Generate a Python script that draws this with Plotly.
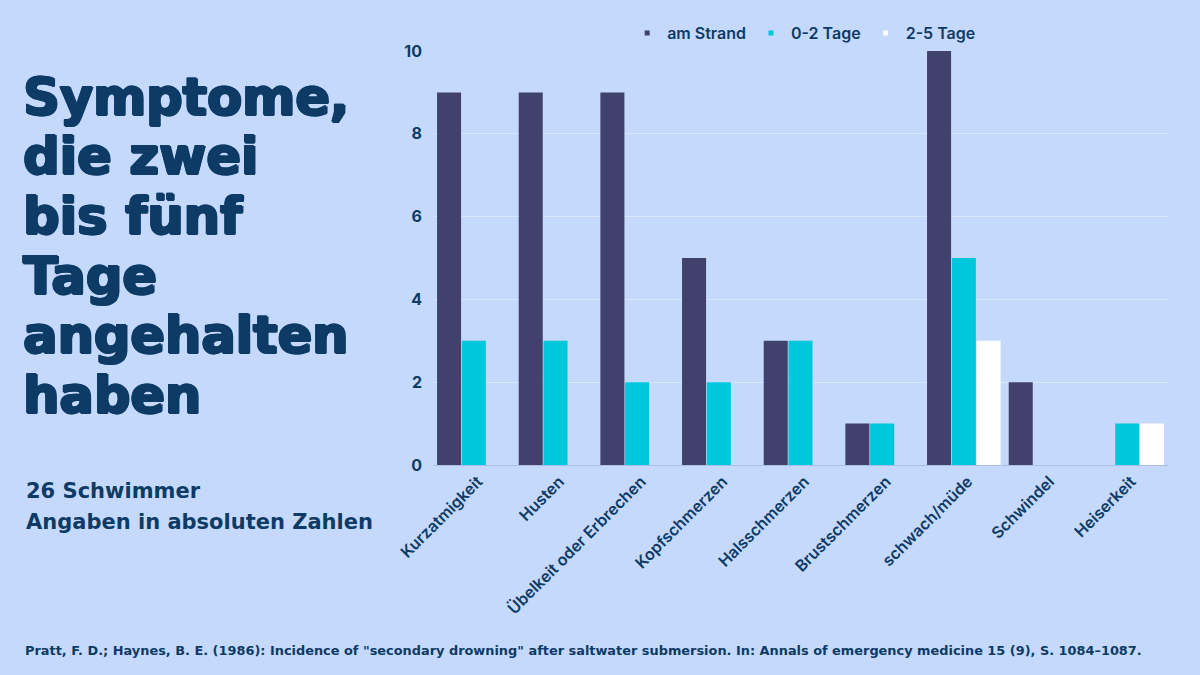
import plotly.graph_objects as go

categories = ["Kurzatmigkeit", "Husten", "Übelkeit oder Erbrechen", "Kopfschmerzen",
              "Halsschmerzen", "Brustschmerzen", "schwach/müde", "Schwindel", "Heiserkeit"]
am_strand = [9, 9, 9, 5, 3, 1, 10, 2, 0]
tage_0_2 = [3, 3, 2, 2, 3, 1, 5, 0, 1]
tage_2_5 = [0, 0, 0, 0, 0, 0, 3, 0, 1]
series_names = ["am Strand", "0-2 Tage", "2-5 Tage"]
y_ticks = [0, 2, 4, 6, 8, 10]
title_lines = ["Symptome,", "die zwei", "bis fünf", "Tage", "angehalten", "haben"]
subtitle_lines = ["26 Schwimmer", "Angaben in absoluten Zahlen"]
source_text = ('Pratt, F. D.; Haynes, B. E. (1986): Incidence of "secondary drowning" after '
               'saltwater submersion. In: Annals of emergency medicine 15 (9), S. 1084–1087.')

BG = "#C5D9FC"
NAVY = "#0D3B66"
colors = ["#41416E", "#00C8DC", "#FFFFFF"]

W, H = 1200, 675
L, R, T, B = 433, 32, 51, 210
PW, PH = W - L - R, H - T - B


def px_x(px):
    return (px - L) / PW


def px_y(py):
    return (H - B - py) / PH


fig = go.Figure()
for name, vals, col in zip(series_names, [am_strand, tage_0_2, tage_2_5], colors):
    fig.add_trace(go.Bar(x=categories, y=vals, name=name, showlegend=False,
                         marker=dict(color=col, line=dict(width=0))))
for name, col in zip(series_names, colors):
    fig.add_trace(go.Scatter(x=[None], y=[None], name=name, mode="markers",
                             marker=dict(symbol="square", size=5, color=col)))

fig.update_layout(
    width=W, height=H,
    paper_bgcolor=BG, plot_bgcolor=BG,
    margin=dict(l=L, r=R, t=T, b=B),
    barmode="group", bargap=0.09, bargroupgap=0.03,
    font=dict(family="Inter", color=NAVY),
    legend=dict(orientation="h", x=0.505, xanchor="center", y=1.043, yanchor="middle",
                font=dict(size=16, color=NAVY, family="Inter", weight=600),
                itemwidth=30, bgcolor="rgba(0,0,0,0)", tracegroupgap=0),
    showlegend=True,
)
fig.update_yaxes(range=[0, 10], tickvals=y_ticks, showgrid=True,
                 gridcolor="rgba(255,255,255,0.35)", gridwidth=1, zeroline=False,
                 showline=False, ticks="", ticklabelstandoff=10,
                 tickfont=dict(size=16, color=NAVY, family="Inter", weight=700))
fig.update_xaxes(tickangle=-45, showline=True, linecolor="#A9BEE8", linewidth=1,
                 ticks="", ticklabelshift=4,
                 tickfont=dict(size=16, color=NAVY, family="Inter", weight=600))

thick = ("1.5px 0 0 #0D3B66, -1px 0 0 #0D3B66, 0 1px 0 #0D3B66, 0 -1px 0 #0D3B66, "
         "1px 1px 0 #0D3B66, -1px -1px 0 #0D3B66")
TS = 51
for i, line in enumerate(title_lines):
    base = 115 + i * 59.6
    fig.add_annotation(xref="paper", yref="paper", x=px_x(22), y=px_y(base - 0.346 * TS),
                       xanchor="left", yanchor="middle", text=line, showarrow=False,
                       borderpad=0,
                       font=dict(size=TS, color=NAVY, family="DejaVu Sans", weight=700,
                                 shadow=thick))

SS = 21
for i, line in enumerate(subtitle_lines):
    base = 498 + i * 31
    fig.add_annotation(xref="paper", yref="paper", x=px_x(24), y=px_y(base - 0.346 * SS),
                       xanchor="left", yanchor="middle", text=line, showarrow=False,
                       font=dict(size=SS, color=NAVY, family="DejaVu Sans", weight=700))

CS = 12.9
fig.add_annotation(xref="paper", yref="paper", x=px_x(23), y=px_y(655 - 0.346 * CS),
                   xanchor="left", yanchor="middle", text=source_text, showarrow=False,
                   font=dict(size=CS, color=NAVY, family="DejaVu Sans", weight=700))

fig.write_html("out.html", config={"displayModeBar": False},
               post_script="document.body.style.margin='0';")
